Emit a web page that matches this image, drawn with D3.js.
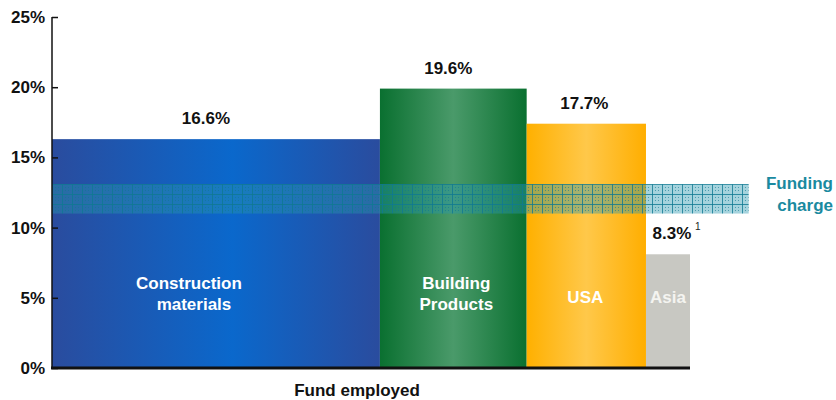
<!DOCTYPE html>
<html><head><meta charset="utf-8">
<script src="https://cdn.jsdelivr.net/npm/d3@7"></script>
<style>body{margin:0;background:#fff}svg{display:block;font-family:"Liberation Sans",Arial,sans-serif}</style>
</head><body><svg id="c" width="836" height="400"></svg>
<script>
const categories = ["Construction materials", "Building Products", "USA", "Asia"];
const categoryLines = [["Construction","materials"],["Building","Products"],["USA"],["Asia"]];
const fundEmployed = [51.4, 23.0, 18.7, 6.9];      // bar widths (share of funds employed)
const returnValues = [16.3, 19.9, 17.4, 8.1];      // bar heights, %
const valueLabels = ["16.6%", "19.6%", "17.7%", "8.3%"];
const fundingCharge = [11.0, 13.1];                // band, %
const fundingExtent = 109.2;                       // band reaches beyond bars
const yTicks = [0, 5, 10, 15, 20, 25];

const svg = d3.select("#c");
const x = d3.scaleLinear().domain([0, 100]).range([52, 690]);
const y = d3.scaleLinear().domain([0, 25]).range([368, 17]);

const defs = svg.append("defs");
const grads = [
  [["0%","#2a4c9e"],["55%","#0a68cc"],["100%","#2a4c9e"]],
  [["0%","#0a7030"],["50%","#4a9a6a"],["100%","#0a7030"]],
  [["0%","#ffb000"],["50%","#ffc84a"],["100%","#ffae00"]],
  [["0%","#c8c8c2"],["100%","#c8c8c2"]]
];
grads.forEach((g,i)=>{
  const lg = defs.append("linearGradient").attr("id","g"+i).attr("x1","0%").attr("x2","100%");
  g.forEach(s=>lg.append("stop").attr("offset",s[0]).attr("stop-color",s[1]));
});
const pat = defs.append("pattern").attr("id","hatch").attr("patternUnits","userSpaceOnUse")
  .attr("width",10).attr("height",10).attr("x",52).attr("y",184);
pat.append("rect").attr("width",10).attr("height",10).attr("fill","rgba(40,150,175,0.42)");
pat.append("rect").attr("width",10).attr("height",1).attr("fill","rgba(15,120,145,0.8)");
pat.append("rect").attr("width",1).attr("height",10).attr("fill","rgba(15,120,145,0.8)");
[[3,3],[6,6],[3,6],[6,3]].forEach(p=>pat.append("rect").attr("x",p[0]).attr("y",p[1]).attr("width",1).attr("height",1).attr("fill","rgba(15,120,145,0.6)"));

const cum = [];
let acc = 0;
fundEmployed.forEach(w=>{cum.push(acc); acc += w;});

const bars = svg.append("g");
categories.forEach((c,i)=>{
  bars.append("rect").attr("x", x(cum[i])).attr("width", x(cum[i]+fundEmployed[i]) - x(cum[i]))
    .attr("y", y(returnValues[i])).attr("height", y(0) - y(returnValues[i]))
    .attr("fill", "url(#g"+i+")");
});

// funding charge band
svg.append("rect").attr("x", x(0)).attr("width", x(fundingExtent) - x(0))
  .attr("y", y(fundingCharge[1])).attr("height", y(fundingCharge[0]) - y(fundingCharge[1]))
  .attr("fill","url(#hatch)");

// value labels
const valueDx = [-10, -5, -2, 4];
const nameDx = [-27, 3, -1, 0];
categories.forEach((c,i)=>{
  const cx = x(cum[i] + fundEmployed[i]/2);
  svg.append("text").attr("x", cx + valueDx[i]).attr("y", y(returnValues[i]) - 15)
    .attr("text-anchor","middle").attr("font-size",17).attr("font-weight","bold").attr("fill","#111")
    .text(valueLabels[i]);
  const lines = categoryLines[i];
  const t = svg.append("text").attr("text-anchor","middle").attr("font-size",17).attr("font-weight","bold")
    .attr("fill", i===3 ? "#f4f4f0" : "#fff");
  const y0 = lines.length === 2 ? 289 : 303;
  lines.forEach((l,j)=>t.append("tspan").attr("x", cx + nameDx[i] + (j===1&&i===0?5:0)).attr("y", y0 + j*21).text(l));
});
svg.append("text").attr("x", 695).attr("y", 230).attr("font-size",10).attr("fill","#222").text("1");

// funding label
svg.append("text").attr("text-anchor","end").attr("font-size",17).attr("font-weight","bold").attr("fill","#1a8aa0")
  .selectAll("tspan").data(["Funding","charge"]).join("tspan")
  .attr("x",833).attr("y",(d,i)=>189+i*22).text(d=>d);

// axes
const yAxis = svg.append("g").attr("transform","translate(52,0)")
  .call(d3.axisRight(y).tickValues(yTicks).tickSize(6).tickFormat(""));
yAxis.select(".domain").attr("stroke","#111").attr("stroke-width",1.5).attr("d","M0,"+y(25)+"V"+y(0));
yAxis.selectAll(".tick line").attr("stroke","#111").attr("stroke-width",1.5);
svg.append("g").selectAll("text").data(yTicks).join("text")
  .attr("x",45).attr("y",d=>y(d)+6).attr("text-anchor","end").attr("font-size",17).attr("font-weight","bold").attr("fill","#111")
  .text(d=>d+"%");
svg.append("line").attr("x1",x(0)-1).attr("x2",x(100)).attr("y1",y(0)).attr("y2",y(0)).attr("stroke","#111").attr("stroke-width",3);
svg.append("text").attr("x",357).attr("y",396).attr("text-anchor","middle").attr("font-size",17).attr("font-weight","bold").attr("fill","#111").text("Fund employed");
</script></body></html>
